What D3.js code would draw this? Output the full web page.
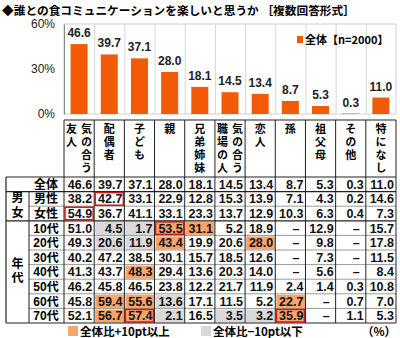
<!DOCTYPE html>
<html>
<head>
<meta charset="utf-8">
<script src="https://cdn.jsdelivr.net/npm/d3@7"></script>
<style>
  html, body { margin: 0; padding: 0; background: #fff; }
  svg { display: block; font-family: "Liberation Sans", Arial, "Noto Sans CJK JP", sans-serif; }
</style>
</head>
<body>
<svg id="chart" width="400" height="338"></svg>
<script>
// Survey: with whom do people enjoy "food communication" (multiple answers, %)
const titleText = "◆誰との食コミュニケーションを楽しいと思うか ［複数回答形式］";
const categories = ["気の合う友人", "配偶者", "子ども", "親", "兄弟姉妹", "気の合う職場の人", "恋人", "孫", "祖父母", "その他", "特になし"];
// header text split into vertical columns (first column sits on the right)
const categoryLines = [["気の合う", "友人"], ["配偶者"], ["子ども"], ["親"], ["兄弟姉妹"], ["気の合う", "職場の人"], ["恋人"], ["孫"], ["祖父母"], ["その他"], ["特になし"]];
const overall = [46.6, 39.7, 37.1, 28.0, 18.1, 14.5, 13.4, 8.7, 5.3, 0.3, 11.0];
const yTicks = [0, 30, 60];
const legendLabel = "全体【n=2000】";

const rowLabels = ["全体", "男性", "女性", "10代", "20代", "30代", "40代", "50代", "60代", "70代"];
const male   = [38.2, 42.7, 33.1, 22.9, 12.8, 15.3, 13.9, 7.1, 4.3, 0.2, 14.6];
const female = [54.9, 36.7, 41.1, 33.1, 23.3, 13.7, 12.9, 10.3, 6.3, 0.4, 7.3];
const age10 = [51.0, 4.5, 1.7, 53.5, 31.1, 5.2, 18.9, null, 12.9, null, 15.7];
const age20 = [49.3, 20.6, 11.9, 43.4, 19.9, 20.6, 28.0, null, 9.8, null, 17.8];
const age30 = [40.2, 47.2, 38.5, 30.1, 15.7, 18.5, 12.6, null, 7.3, null, 11.5];
const age40 = [41.3, 43.7, 48.3, 29.4, 13.6, 20.3, 14.0, null, 5.6, null, 8.4];
const age50 = [46.2, 45.8, 46.5, 23.8, 12.2, 21.7, 11.9, 2.4, 1.4, 0.3, 10.8];
const age60 = [45.8, 59.4, 55.6, 13.6, 17.1, 11.5, 5.2, 22.7, null, 0.7, 7.0];
const age70 = [52.1, 56.7, 57.4, 2.1, 16.5, 3.5, 3.2, 35.9, null, 1.1, 5.3];
const tableRows = [overall, male, female, age10, age20, age30, age40, age50, age60, age70];

const groups = [
  { label: "男女", first: 1, last: 2 },
  { label: "年代", first: 3, last: 9 }
];
// cells outlined in red
const boxedCells = [["男性", "配偶者"], ["女性", "気の合う友人"], ["10代", "親"], ["70代", "子ども"], ["70代", "孫"]];
const legendHigh = "全体比+10pt以上";
const legendLow = "全体比−10pt以下";
const unitLabel = "（%）";

const barColor = "#f35a05";
const highColor = "#f9a46a";
const lowColor = "#d9d9d9";
const boxColor = "#c8161d";

const svg = d3.select("#chart");
const jp = "'Noto Sans CJK JP', sans-serif";

// title
svg.append("text")
  .attr("x", 2).attr("y", 15)
  .attr("font-size", 11.7).attr("font-weight", "bold")
  .attr("font-family", jp)
  .text(titleText);

// scales
const x = d3.scaleBand().domain(categories).range([64, 396]).padding(0);
const y = d3.scaleLinear().domain([0, 60]).range([114, 24]);
const bw = x.bandwidth();

// plot frame and category separators
const plot = svg.append("g");
plot.append("rect")
  .attr("x", x.range()[0]).attr("y", y(60))
  .attr("width", x.range()[1] - x.range()[0]).attr("height", y(0) - y(60))
  .attr("fill", "none").attr("stroke", "#d0d0d0");
plot.selectAll("line.sep").data(categories.slice(1)).join("line")
  .attr("class", "sep")
  .attr("x1", d => x(d) + 0.5).attr("x2", d => x(d) + 0.5)
  .attr("y1", y(60)).attr("y2", y(0))
  .attr("stroke", "#d6d6d6");

// y axis
const yAxis = d3.axisLeft(y).tickValues(yTicks).tickFormat(d => d + "%").tickSize(0).tickPadding(9);
const yg = svg.append("g").attr("transform", `translate(${x.range()[0]},0)`).call(yAxis);
yg.select(".domain").attr("stroke", "#888");
yg.selectAll("text").attr("font-size", 12).attr("fill", "#222")
  .attr("font-family", "'Liberation Sans', Arial, sans-serif");

// bars
const barW = 17;
plot.selectAll("rect.bar").data(overall).join("rect")
  .attr("class", "bar")
  .attr("x", (d, i) => x(categories[i]) + (bw - barW) / 2)
  .attr("y", d => y(d))
  .attr("width", barW)
  .attr("height", d => y(0) - y(d))
  .attr("fill", barColor);

plot.selectAll("text.val").data(overall).join("text")
  .attr("class", "val")
  .attr("x", (d, i) => x(categories[i]) + bw / 2)
  .attr("y", d => y(d) - 7)
  .attr("text-anchor", "middle")
  .attr("font-size", 12).attr("font-weight", "bold").attr("fill", "#222")
  .text(d => d.toFixed(1));

// legend in plot
const lg = svg.append("g");
lg.append("rect").attr("x", 297).attr("y", 36).attr("width", 6).attr("height", 7).attr("fill", barColor);
lg.append("text").attr("x", 305).attr("y", 43.5)
  .attr("font-size", 11).attr("font-weight", "bold")
  .attr("font-family", jp)
  .text(legendLabel);

// ---------- table ----------
const headTop = 120, headBottom = 177, rowH = 14.6;
const tableBottom = headBottom + rowH * tableRows.length;
const rowY = i => headBottom + i * rowH;
const tbl = svg.append("g");

// header: category names set in vertical writing mode
categories.forEach((c, ci) => {
  const lines = categoryLines[ci];
  const cx = x(c) + bw / 2;
  lines.forEach((ln, li) => {
    const offset = lines.length === 1 ? 0 : (li === 0 ? 7.5 : -7.5);
    tbl.append("text")
      .attr("x", cx + offset).attr("y", headTop + 3)
      .style("writing-mode", "vertical-rl")
      .style("letter-spacing", "2.2px")
      .attr("font-size", 11).attr("font-weight", "bold")
      .attr("font-family", jp)
      .text(ln);
  });
});

// cell fills: +10pt above / -10pt below the overall figure
tableRows.forEach((row, ri) => {
  if (ri === 0) return;
  row.forEach((v, ci) => {
    if (v === null) return;
    const diff = v - overall[ci];
    let fill = null;
    if (diff >= 10) fill = highColor;
    else if (diff <= -10) fill = lowColor;
    if (fill) {
      tbl.append("rect")
        .attr("x", x(categories[ci]) + 1).attr("y", rowY(ri) + 1)
        .attr("width", bw - 1.5).attr("height", rowH - 1.5)
        .attr("fill", fill);
    }
  });
});

// row separators (light) inside groups
groups.forEach(g => {
  for (let r = g.first + 1; r <= g.last; r++) {
    tbl.append("line")
      .attr("x1", 29).attr("x2", x.range()[1])
      .attr("y1", rowY(r)).attr("y2", rowY(r))
      .attr("stroke", "#9a9a9a").attr("stroke-width", 1);
  }
});

// strong horizontal rules
const strong = [headBottom, rowY(1), rowY(3), tableBottom];
strong.forEach(yy => {
  tbl.append("line")
    .attr("x1", 6).attr("x2", x.range()[1])
    .attr("y1", yy).attr("y2", yy)
    .attr("stroke", "#222").attr("stroke-width", 1.2);
});
tbl.append("line")
  .attr("x1", x.range()[0]).attr("x2", x.range()[1])
  .attr("y1", headTop).attr("y2", headTop)
  .attr("stroke", "#222").attr("stroke-width", 1.2);

// vertical rules
d3.range(categories.length + 1).forEach(i => {
  const xx = x.range()[0] + i * bw;
  tbl.append("line")
    .attr("x1", xx).attr("x2", xx)
    .attr("y1", headTop).attr("y2", tableBottom)
    .attr("stroke", "#222").attr("stroke-width", 1);
});
tbl.append("line").attr("x1", 6).attr("x2", 6).attr("y1", headBottom).attr("y2", tableBottom)
  .attr("stroke", "#222").attr("stroke-width", 1.2);
tbl.append("line").attr("x1", 29).attr("x2", 29).attr("y1", rowY(1)).attr("y2", tableBottom)
  .attr("stroke", "#222").attr("stroke-width", 1);

// red outlines
boxedCells.forEach(([rl, cl]) => {
  const ri = rowLabels.indexOf(rl);
  tbl.append("rect")
    .attr("x", x(cl) + 1).attr("y", rowY(ri) + 1)
    .attr("width", bw - 2).attr("height", rowH - 2)
    .attr("fill", "none").attr("stroke", boxColor).attr("stroke-width", 1.5);
});

// row labels
rowLabels.forEach((lbl, ri) => {
  tbl.append("text")
    .attr("x", 46).attr("y", rowY(ri) + rowH / 2 + 4.5)
    .attr("text-anchor", "middle")
    .attr("font-size", 12).attr("font-weight", "bold")
    .text(lbl);
});

// group labels, stacked vertically
groups.forEach(g => {
  const mid = (rowY(g.first) + rowY(g.last + 1)) / 2;
  tbl.append("text")
    .attr("x", 17.5).attr("y", mid)
    .attr("text-anchor", "middle")
    .style("writing-mode", "vertical-rl")
    .style("letter-spacing", "2.5px")
    .attr("font-size", 12).attr("font-weight", "bold")
    .attr("font-family", jp)
    .text(g.label);
});

// values
tableRows.forEach((row, ri) => {
  row.forEach((v, ci) => {
    tbl.append("text")
      .attr("x", x(categories[ci]) + bw - (v === null ? 6 : 2))
      .attr("y", rowY(ri) + rowH / 2 + 4.5)
      .attr("text-anchor", "end")
      .attr("font-size", 12.5).attr("font-weight", "bold")
      .attr("fill", "#111")
      .text(v === null ? "–" : v.toFixed(1));
  });
});

// bottom legend
const bl = svg.append("g");
bl.append("rect").attr("x", 68).attr("y", 326).attr("width", 10).attr("height", 10).attr("fill", highColor);
bl.append("text").attr("x", 80).attr("y", 335.5).attr("font-size", 11.5).attr("font-weight", "bold")
  .attr("font-family", jp).text(legendHigh);
bl.append("rect").attr("x", 201).attr("y", 326).attr("width", 10).attr("height", 10).attr("fill", lowColor);
bl.append("text").attr("x", 213).attr("y", 335.5).attr("font-size", 11.5).attr("font-weight", "bold")
  .attr("font-family", jp).text(legendLow);
bl.append("text").attr("x", 396).attr("y", 335.5).attr("text-anchor", "end").attr("font-size", 11.5).attr("font-weight", "bold")
  .attr("font-family", jp).text(unitLabel);
</script>
</body>
</html>
